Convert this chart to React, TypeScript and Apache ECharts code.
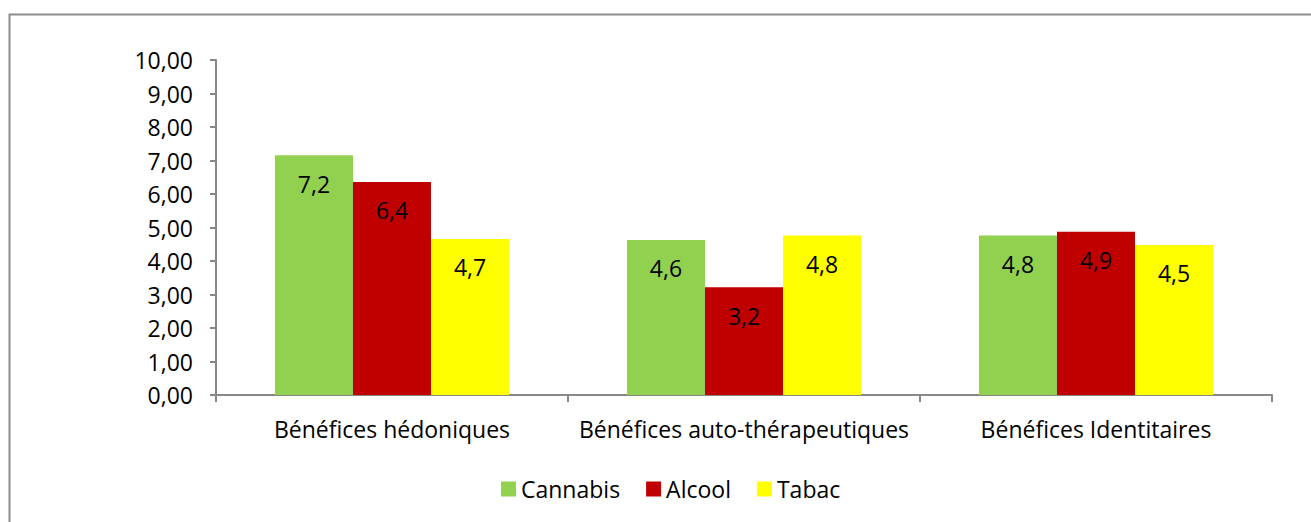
import React, { useEffect, useRef } from "react";
import * as echarts from "echarts";

const categories = ["Bénéfices hédoniques", "Bénéfices auto-thérapeutiques", "Bénéfices Identitaires"];
const seriesNames = ["Cannabis", "Alcool", "Tabac"];
const cannabis = [7.16, 4.63, 4.76];
const alcool = [6.36, 3.22, 4.87];
const tabac = [4.66, 4.76, 4.48];
const colors = ["#92D050", "#C00000", "#FFFF00"];

const FONT = "Open Sans";
const FS = 23;

export default function App() {
  const ref = useRef<HTMLDivElement>(null);
  useEffect(() => {
    document.body.style.margin = "0";
    const chart = echarts.init(ref.current!, null, { renderer: "svg" });
    const data = [cannabis, alcool, tabac];
    chart.setOption({
      animation: false,
      textStyle: { fontFamily: FONT },
      graphic: [
        {
          type: "rect",
          shape: { x: 9.5, y: 14.5, width: 1400, height: 600 },
          style: { fill: "none", stroke: "#8c8c8c", lineWidth: 2 },
          silent: true,
        },
      ],
      grid: { left: 216, right: 39, top: 60, bottom: 127, containLabel: false },
      legend: {
        left: 501,
        top: 477,
        padding: 0,
        itemWidth: 15,
        itemHeight: 15,
        itemGap: 26,
        icon: "rect",
        textStyle: { fontFamily: FONT, fontSize: FS, color: "#000", lineHeight: 24 },
        data: seriesNames,
      },
      xAxis: {
        type: "category",
        data: categories,
        axisLine: { lineStyle: { color: "#888", width: 2 } },
        axisTick: { show: true, length: 7, lineStyle: { color: "#888", width: 2 } },
        axisLabel: { color: "#000", fontSize: FS, fontFamily: FONT, margin: 22, interval: 0 },
      },
      yAxis: {
        type: "value",
        min: 0,
        max: 10,
        interval: 1,
        splitLine: { show: false },
        axisLine: { show: true, lineStyle: { color: "#888", width: 2 } },
        axisTick: { show: true, length: 6, lineStyle: { color: "#888", width: 2 } },
        axisLabel: {
          color: "#000",
          fontSize: FS,
          fontFamily: FONT,
          margin: 23,
          formatter: (v: number) => v.toFixed(2).replace(".", ","),
        },
      },
      series: seriesNames.map((name, i) => ({
        name,
        type: "bar",
        data: data[i],
        barGap: "0%",
        barCategoryGap: "33.5%",
        itemStyle: { color: colors[i] },
        label: {
          show: true,
          position: "insideTop",
          distance: 17,
          color: "#000",
          fontSize: FS,
          fontFamily: FONT,
          formatter: (p: any) => Number(p.value).toFixed(1).replace(".", ","),
        },
      })),
    });
    return () => chart.dispose();
  }, []);
  return <div ref={ref} style={{ width: 1311, height: 522 }} />;
}
